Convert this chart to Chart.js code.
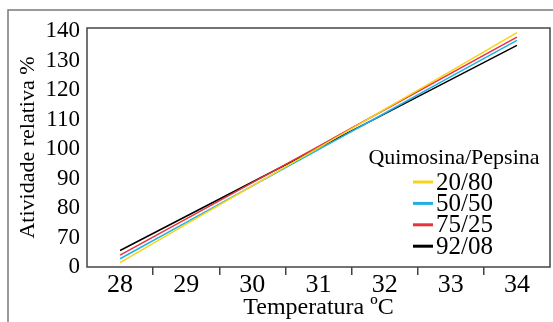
<!DOCTYPE html>
<html>
<head>
<meta charset="utf-8">
<script src="https://cdn.jsdelivr.net/npm/chart.js@4/dist/chart.umd.min.js"></script>
<style>
  html, body { margin: 0; padding: 0; background: #fff; overflow: hidden; }
  #wrap { width: 553px; height: 322px; }
</style>
</head>
<body>
<div id="wrap"><canvas id="chart" width="553" height="322"></canvas></div>
<script>
// temperatures on the x axis
const temperatures = ['28', '29', '30', '31', '32', '33', '34'];

// relative activity (%) per quimosina/pepsina blend
const series2080 = [61.5, 74.5, 87.5, 100.4, 113.4, 126.4, 139.4];
const series5050 = [62.8, 75.1, 87.5, 99.8, 112.1, 124.5, 136.8];
const series7525 = [64.0, 76.3, 88.6, 100.9, 113.3, 125.6, 137.9];
const series9208 = [65.6, 77.2, 88.8, 100.4, 111.9, 123.5, 135.1];

const seriesLabels = ['20/80', '50/50', '75/25', '92/08'];
const seriesColors = ['#f7d417', '#1fb0e6', '#e8333c', '#000000'];
const legendTitle = 'Quimosina/Pepsina';

// broken y axis: the bottom tick is printed as 0
const yTickValues = [60, 70, 80, 90, 100, 110, 120, 130, 140];
const yTickLabels = ['0', '70', '80', '90', '100', '110', '120', '130', '140'];

const serif = '"Liberation Serif", "Times New Roman", serif';

const framePlugin = {
    id: 'frame',
    beforeDraw(chart) {
        const ctx = chart.ctx;
        ctx.save();
        ctx.fillStyle = '#fff';
        ctx.fillRect(0, 0, chart.width, chart.height);
        ctx.strokeStyle = '#7a7a7a';
        ctx.lineWidth = 1.5;
        ctx.strokeRect(8, 10, 700, 500);
        ctx.restore();
    },
    afterDraw(chart) {
        const ctx = chart.ctx;
        const a = chart.chartArea;
        ctx.save();
        ctx.strokeStyle = '#444';
        ctx.lineWidth = 1.5;
        ctx.strokeRect(a.left, a.top, a.right - a.left, a.bottom - a.top);

        // legend inside the plot, lower right
        ctx.fillStyle = '#000';
        ctx.textBaseline = 'middle';
        ctx.textAlign = 'center';
        ctx.font = '22px ' + serif;
        ctx.fillText(legendTitle, a.right - 96, a.top + 130);

        ctx.textAlign = 'left';
        ctx.font = '25px ' + serif;
        chart.data.datasets.forEach((ds, i) => {
            const y = a.top + 154 + i * 21.4;
            ctx.strokeStyle = ds.borderColor;
            ctx.lineWidth = 3;
            ctx.beginPath();
            ctx.moveTo(a.right - 137, y);
            ctx.lineTo(a.right - 117, y);
            ctx.stroke();
            ctx.fillText(ds.label, a.right - 114, y + 1);
        });
        ctx.restore();
    }
};

const allSeries = [series2080, series5050, series7525, series9208];

new Chart(document.getElementById('chart'), {
    type: 'line',
    data: {
        labels: temperatures,
        datasets: allSeries.map((values, i) => ({
            label: seriesLabels[i],
            data: values,
            borderColor: seriesColors[i],
            backgroundColor: seriesColors[i],
            borderWidth: 1.5,
            pointRadius: 0,
            tension: 0
        }))
    },
    options: {
        responsive: false,
        animation: false,
        layout: { padding: { left: 0, top: 28, right: 3, bottom: 0 } },
        plugins: {
            legend: { display: false },
            tooltip: { enabled: false }
        },
        scales: {
            x: {
                type: 'category',
                offset: true,
                afterFit(s) { s.height = 55; },
                border: { display: false },
                grid: {
                    offset: true,
                    drawOnChartArea: false,
                    drawTicks: true,
                    tickLength: 8,
                    lineWidth: 1.5,
                    color: (c) => (c.type !== 'tick' || c.index === 0) ? 'rgba(0,0,0,0)' : '#444'
                },
                ticks: {
                    color: '#000',
                    padding: -3,
                    autoSkip: false,
                    maxRotation: 0,
                    font: { family: serif, size: 26, lineHeight: 1 }
                },
                title: {
                    display: true,
                    text: 'Temperatura ºC',
                    color: '#000',
                    padding: { top: 0, bottom: 1 },
                    font: { family: serif, size: 24, lineHeight: 1.1 }
                }
            },
            y: {
                min: 60,
                max: 141,
                afterFit(s) { s.width = 87; },
                border: { display: false },
                grid: { display: false, drawTicks: false },
                ticks: {
                    stepSize: 10,
                    includeBounds: false,
                    autoSkip: false,
                    color: '#000',
                    padding: 7,
                    font: { family: serif, size: 23, lineHeight: 1 },
                    callback: (v) => {
                        const i = yTickValues.indexOf(v);
                        return i >= 0 ? yTickLabels[i] : '';
                    }
                },
                title: {
                    display: true,
                    text: 'Atividade relativa %',
                    color: '#000',
                    padding: { top: 15, bottom: 0 },
                    font: { family: serif, size: 22 }
                }
            }
        }
    },
    plugins: [framePlugin]
});
</script>
</body>
</html>
